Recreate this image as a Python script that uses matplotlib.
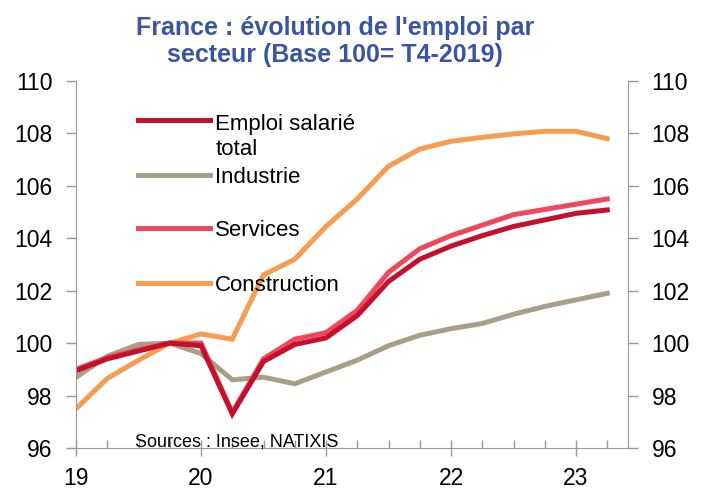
import matplotlib.pyplot as plt
from matplotlib.lines import Line2D
from matplotlib.ticker import MultipleLocator
import numpy as np

plt.rcParams['font.family'] = ['Liberation Sans', 'DejaVu Sans']

# ----- data (quarterly, base 100 = T4-2019) -----
quarters = np.arange(18) * 0.25 + 19  # T1-2019 .. T2-2023

total = [98.95, 99.4, 99.7, 100.0, 99.9, 97.3, 99.3, 99.95, 100.2, 101.05,
         102.35, 103.2, 103.7, 104.1, 104.45, 104.7, 104.95, 105.08]
industrie = [98.7, 99.5, 99.95, 100.0, 99.6, 98.6, 98.7, 98.45, 98.9, 99.35,
             99.9, 100.3, 100.55, 100.75, 101.1, 101.4, 101.65, 101.9]
services = [99.0, 99.45, 99.75, 100.0, 100.0, 97.35, 99.4, 100.15, 100.4, 101.25,
            102.7, 103.6, 104.1, 104.5, 104.9, 105.1, 105.3, 105.5]
construction = [97.5, 98.65, 99.35, 100.0, 100.35, 100.15, 102.6, 103.2, 104.45, 105.5,
                106.75, 107.4, 107.7, 107.85, 107.98, 108.08, 108.08, 107.8]

labels = ['Emploi salarié\ntotal', 'Industrie', 'Services', 'Construction']
colors = ['#c4102c', '#a89f88', '#f0475c', '#f79c50']
series = [total, industrie, services, construction]

year_ticks = [19, 20, 21, 22, 23]
year_labels = ['19', '20', '21', '22', '23']

# ----- plot -----
fig = plt.figure(figsize=(7.02, 4.91), dpi=100)
ax = fig.add_axes([0.1083, 0.0876, 0.7863, 0.7475])

for i in [3, 1, 2, 0]:
    ax.plot(quarters, series[i], color=colors[i], lw=3.6, solid_joinstyle='miter')

ax.set_xlim(19, 23.416)
ax.set_ylim(96, 110)
ax.set_xticks(year_ticks)
ax.set_xticklabels(year_labels)
ax.xaxis.set_minor_locator(MultipleLocator(0.25))
ax.yaxis.set_major_locator(MultipleLocator(2))

grey = '#999999'
ax.tick_params(axis='y', which='major', direction='out', length=7, width=1,
               color=grey, labelsize=16.5, left=True, right=True,
               labelleft=True, labelright=True, pad=10)
ax.tick_params(axis='x', which='major', direction='inout', length=12, width=1,
               color=grey, labelsize=16.5, pad=8)
ax.tick_params(axis='x', which='minor', direction='in', length=6, width=1,
               color=grey)

for side in ['left', 'right', 'bottom']:
    ax.spines[side].set_color(grey)
ax.spines['top'].set_visible(False)

# legend drawn by hand so the handle sits on the first line of each label
leg_y = [0.894, 0.744, 0.599, 0.450]
line_step = 0.0727  # one text line of 16 pt, in axes units
for lab, col, yy in zip(labels, colors, leg_y):
    ax.add_line(Line2D([0.112, 0.243], [yy, yy], transform=ax.transAxes,
                       color=col, lw=3.6))
    n_extra = lab.count('\n')
    ax.text(0.252, yy - 0.022 - n_extra * line_step, lab, transform=ax.transAxes,
            fontsize=16, va='baseline', ha='left', linespacing=1.2)

ax.text(19.47, 96.05, 'Sources : Insee, NATIXIS', fontsize=13, ha='left', va='baseline')

title_color = '#3a56a3'
fig.text(0.477, 0.9287, "France : évolution de l'emploi par", ha='center',
         va='baseline', fontsize=18, fontweight='bold', color=title_color)
fig.text(0.477, 0.8737, "secteur (Base 100= T4-2019)", ha='center',
         va='baseline', fontsize=18, fontweight='bold', color=title_color)

fig.savefig('out.png', dpi=100)
